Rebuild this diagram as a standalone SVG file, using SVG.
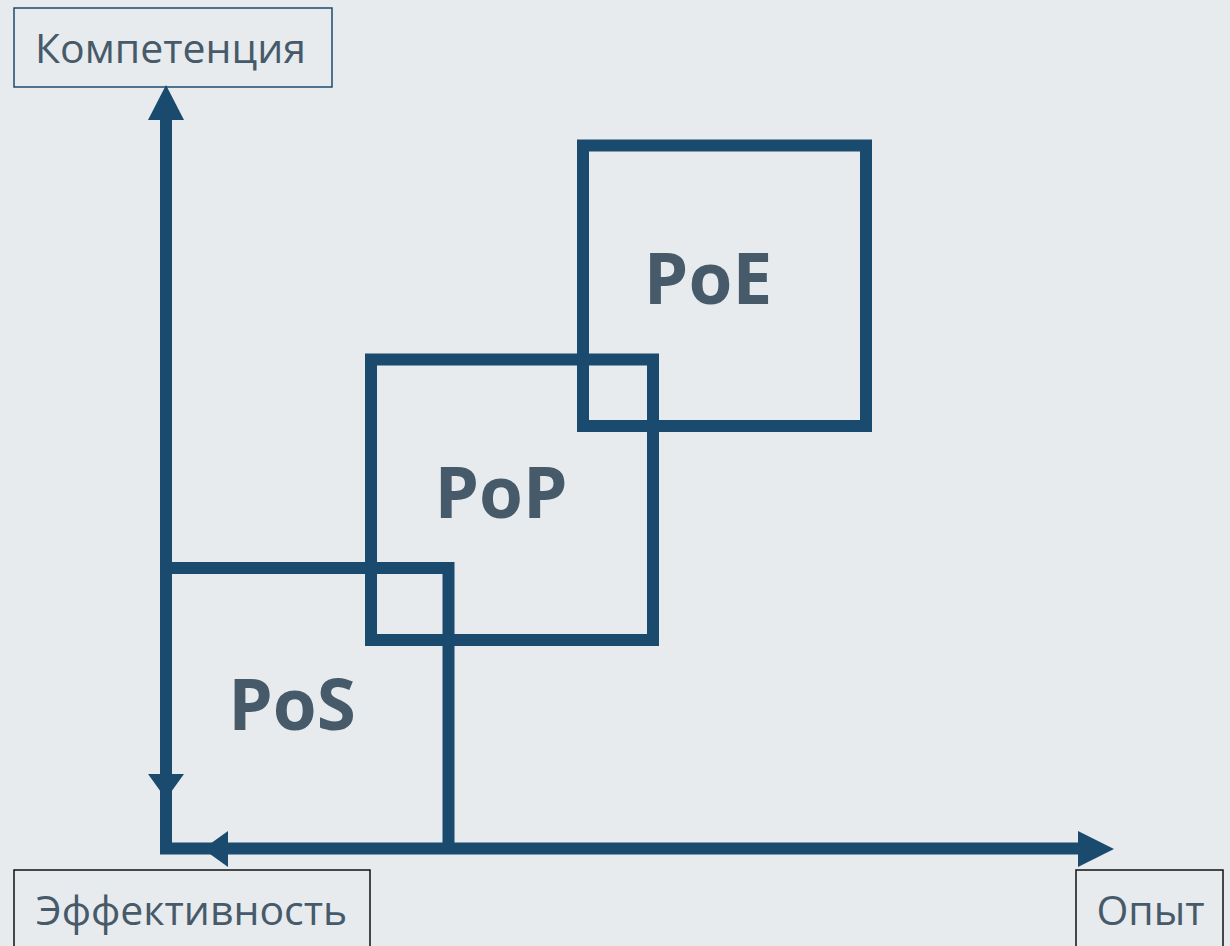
<svg xmlns="http://www.w3.org/2000/svg" width="1230" height="946" viewBox="0 0 1230 946">
<style>
.bg{fill:#E7EBEE}
.ax{stroke:#1A4B6E;stroke-width:12;fill:none}
.ah{fill:#1A4B6E}
.box{stroke:#1A4B6E;stroke-width:12;fill:none}
.big{font-family:"Open Sans","DejaVu Sans",sans-serif;font-weight:bold;font-size:71px;fill:#465A69}
.lbl{font-family:"Open Sans","DejaVu Sans",sans-serif;font-size:41px;fill:#465A69}
.lb1{fill:none;stroke:#1A4B6E;stroke-width:1.5}
.lb2{fill:none;stroke:#111;stroke-width:1.5}
</style>
<rect class="bg" x="0" y="0" width="1230" height="946"/>
<g id="connectors">
<path class="ax" d="M166 118 V848.5 H1080"/>
<polygon class="ah" points="166,85 148,120 184,120"/>
<polygon class="ah" points="148,774 184,774 166,799"/>
<polygon class="ah" points="1114,849 1078,831 1078,867"/>
<polygon class="ah" points="203,849 228,831 228,867"/>
</g>
<g id="PoS">
<path class="box" d="M172 568 H448.5 V854"/>
<text class="big" x="292" y="730" text-anchor="middle">PoS</text>
</g>
<g id="PoP">
<rect class="box" x="371" y="359.5" width="282" height="280.5"/>
<text class="big" x="501" y="518" text-anchor="middle">PoP</text>
</g>
<g id="PoE">
<rect class="box" x="583" y="145.5" width="283" height="280.5"/>
<text class="big" x="708" y="304" text-anchor="middle">PoE</text>
</g>
<g id="label-competence">
<rect class="lb1" x="14" y="8" width="318" height="79"/>
<text class="lbl" x="170.5" y="63" text-anchor="middle">Компетенция</text>
</g>
<g id="label-efficiency">
<rect class="lb2" x="14" y="870" width="356" height="90"/>
<text class="lbl" x="191.5" y="925" text-anchor="middle">Эффективность</text>
</g>
<g id="label-experience">
<rect class="lb2" x="1076" y="870" width="147" height="90"/>
<text class="lbl" x="1150.5" y="925" text-anchor="middle">Опыт</text>
</g>
</svg>
